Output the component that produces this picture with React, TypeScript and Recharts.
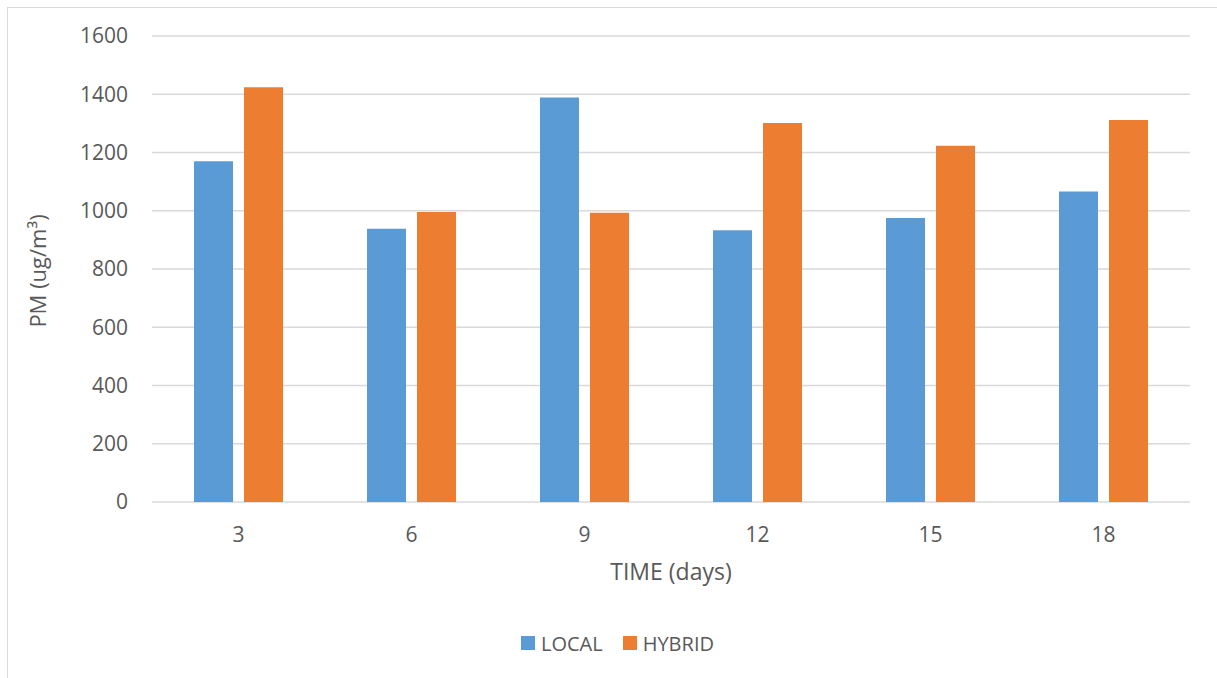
import { BarChart, Bar, XAxis, YAxis, CartesianGrid, Legend, Label } from "recharts";

const days = ["3", "6", "9", "12", "15", "18"];
const local = [1170, 938, 1389, 933, 975, 1066];
const hybrid = [1424, 996, 993, 1301, 1223, 1312];
const yTicks = [0, 200, 400, 600, 800, 1000, 1200, 1400, 1600];

const data = days.map((d, i) => ({ day: d, LOCAL: local[i], HYBRID: hybrid[i] }));

const FONT = "'Open Sans', 'Noto Sans', sans-serif";
const TEXT = "#595959";
const BLUE = "#5B9BD5";
const ORANGE = "#ED7D31";

function YTitle({ viewBox }: any) {
  const cy = viewBox.y + viewBox.height / 2 + 2;
  const cx = 37;
  return (
    <text
      x={cx}
      y={cy}
      transform={`rotate(-90 ${cx} ${cy})`}
      textAnchor="middle"
      dominantBaseline="central"
      fill={TEXT}
      fontSize={22}
      fontFamily={FONT}
    >
      PM (ug/m³)
    </text>
  );
}

function LegendBox() {
  const items = [
    { name: "LOCAL", color: BLUE },
    { name: "HYBRID", color: ORANGE },
  ];
  return (
    <div style={{ display: "flex", alignItems: "center", height: 40, paddingLeft: 521, fontFamily: FONT }}>
      {items.map((it) => (
        <div key={it.name} style={{ display: "flex", alignItems: "center", marginRight: 20 }}>
          <span style={{ width: 14, height: 14, background: it.color, display: "inline-block", marginRight: 6 }} />
          <span style={{ fontSize: 20, color: TEXT }}>{it.name}</span>
        </div>
      ))}
    </div>
  );
}

export default function App() {
  return (
    <div style={{ position: "absolute", left: 0, top: 0, width: 1217, height: 678, overflow: "hidden", background: "#fff" }}>
      <div
        style={{
          position: "absolute",
          left: 7,
          top: 7,
          width: 1240,
          height: 700,
          border: "1px solid #d9d9d9",
        }}
      />
      <div style={{ position: "absolute", left: 0, top: 0 }}>
        <BarChart
          width={1217}
          height={678}
          data={data}
          margin={{ top: 36, right: 27, bottom: 15, left: 0 }}
          barCategoryGap={42}
          barGap={11}
        >
          <CartesianGrid vertical={false} stroke="#d9d9d9" strokeWidth={1.5} />
          <XAxis
            dataKey="day"
            height={121}
            tickLine={false}
            axisLine={false}
            tickMargin={19}
            tick={{ fontSize: 21, fill: TEXT, fontFamily: FONT }}
          >
            <Label
              value="TIME (days)"
              position="insideBottom"
              offset={43}
              fill={TEXT}
              fontSize={23}
              fontFamily={FONT}
            />
          </XAxis>
          <YAxis
            width={152}
            domain={[0, 1600]}
            ticks={yTicks}
            tickLine={false}
            axisLine={false}
            tickMargin={18}
            tick={{ fontSize: 21, fill: TEXT, fontFamily: FONT }}
          >
            <Label content={YTitle} />
          </YAxis>
          <Legend verticalAlign="bottom" content={LegendBox} />
          <Bar dataKey="LOCAL" fill={BLUE} isAnimationActive={false} />
          <Bar dataKey="HYBRID" fill={ORANGE} isAnimationActive={false} />
        </BarChart>
      </div>
    </div>
  );
}
